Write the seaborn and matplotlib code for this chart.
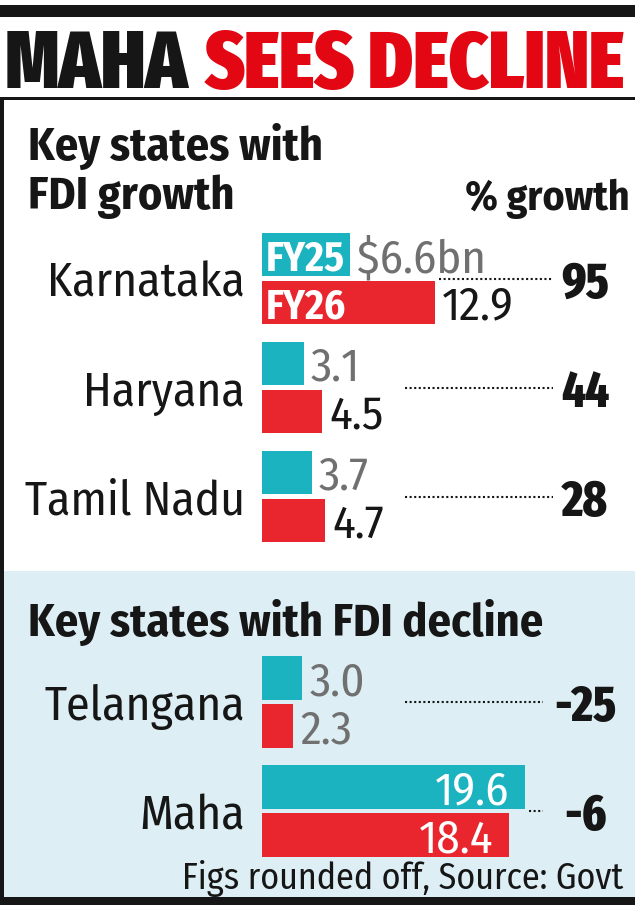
import matplotlib
matplotlib.use('Agg')
import matplotlib.pyplot as plt
import matplotlib.transforms as mtransforms
from matplotlib.patches import Rectangle
import pandas as pd
import seaborn as sns

# ---------------- данные ----------------
growth_states = ['Karnataka', 'Haryana', 'Tamil Nadu']
growth_fy25 = [6.6, 3.1, 3.7]
growth_fy26 = [12.9, 4.5, 4.7]
growth_pct = ['95', '44', '28']

decline_states = ['Telangana', 'Maha']
decline_fy25 = [3.0, 19.6]
decline_fy26 = [2.3, 18.4]
decline_pct = ['-25', '-6']

years = ['FY25', 'FY26']

TEAL = '#1bb3bf'
RED = '#e9262e'
TITLE_RED = '#e30613'
GREY = '#707070'
INK = '#161616'
PALE = '#ddeff4'

# шрифты: узкие, если есть, иначе обычные (размер подгоняется по ширине)
REG = ['Fira Sans Condensed', 'Roboto Condensed', 'Liberation Sans', 'DejaVu Sans']
HEAVY = ['Fira Sans Extra Condensed', 'Roboto Condensed', 'Liberation Sans', 'DejaVu Sans']

sns.set_theme(style='white')
plt.rcParams['font.family'] = REG

W, H = 635, 907
BAR_X0 = 262          # где начинаются полосы, px
PX_PER_BN = 13.4      # масштаб, px на $1bn

fig = plt.figure(figsize=(W / 100, H / 100), dpi=100)
bg = fig.add_axes([0, 0, 1, 1])
bg.set_xlim(0, W)
bg.set_ylim(H, 0)
bg.axis('off')
renderer = fig.canvas.get_renderer()


def px_box(x0, y0, x1, y1):
    return [x0 / W, 1 - y1 / H, (x1 - x0) / W, (y1 - y0) / H]


def size_for(s, width_px, **kw):
    # размер шрифта, при котором строка s занимает width_px пикселей
    t = bg.text(0, 0, s, fontsize=40, **kw)
    w = t.get_window_extent(renderer).width
    t.remove()
    return 40 * width_px / w


title_fs = size_for('SEES DECLINE', 420, family=HEAVY, weight=900)
head_fs = size_for('Key states with FDI decline', 515, family=REG, weight='bold')
pct_head_fs = size_for('% growth', 165, family=REG, weight='bold')
state_fs = size_for('Karnataka', 198, family=REG)
value_fs = size_for('12.9', 72, family=REG)
tag_fs = size_for('FY25', 79, family=REG, weight='bold')
num_fs = size_for('95', 48, family=HEAVY, weight=800)
foot_fs = size_for('Figs rounded off, Source: Govt', 442, family=REG)

# ---------------- рамка и фон ----------------
bg.add_patch(Rectangle((0, 571), W, 326, facecolor=PALE, lw=0))
bg.add_patch(Rectangle((0, 5), W, 12, facecolor=INK, lw=0))
bg.add_patch(Rectangle((0, 97), W, 3, facecolor=INK, lw=0))
bg.add_patch(Rectangle((0, 97), 4, 805, facecolor=INK, lw=0))
bg.add_patch(Rectangle((0, 897), W, 8, facecolor=INK, lw=0))

# ---------------- заголовки ----------------
bg.text(5, 88, 'MAHA', fontsize=title_fs, family=HEAVY, weight=900, color=INK, va='baseline')
bg.text(625, 88, 'SEES DECLINE', fontsize=title_fs, family=HEAVY, weight=900,
        color=TITLE_RED, ha='right', va='baseline')
bg.text(28, 160, 'Key states with', fontsize=head_fs, weight='bold', color=INK, va='baseline')
bg.text(28, 209, 'FDI growth', fontsize=head_fs, weight='bold', color=INK, va='baseline')
bg.text(630, 210, '% growth', fontsize=pct_head_fs, weight='bold', color=INK,
        ha='right', va='baseline')
bg.text(28, 636, 'Key states with FDI decline', fontsize=head_fs, weight='bold', color=INK,
        va='baseline')
bg.text(623, 889, 'Figs rounded off, Source: Govt', fontsize=foot_fs, color=INK,
        ha='right', va='baseline')


# ---------------- секции с полосами ----------------
def draw_section(y0, y1, states, fy25, fy26, pct, dots_end, fy26_color, tags):
    n = len(states)
    ax = fig.add_axes(px_box(BAR_X0, y0, W, y1))
    df = pd.DataFrame({'state': states * 2,
                       'year': ['FY25'] * n + ['FY26'] * n,
                       'bn': fy25 + fy26})
    sns.barplot(data=df, x='bn', y='state', hue='year', hue_order=years,
                palette=[TEAL, RED], orient='h', width=0.88, gap=0.1,
                saturation=1, linewidth=0, errorbar=None, legend=False, ax=ax)
    ax.set_xlim(0, (W - BAR_X0) / PX_PER_BN)
    ax.set_ylim(n - 0.5, -0.5)
    ax.set_facecolor('none')
    ax.set_xticks([])
    ax.set_xlabel('')
    ax.set_ylabel('')
    ax.tick_params(axis='y', length=0, pad=12.2, labelsize=state_fs, labelcolor=INK)
    sns.despine(ax=ax, left=True, bottom=True)

    for j, bars in enumerate(ax.containers):
        for i, bar in enumerate(bars):
            val = bar.get_width()
            yc = bar.get_y() + bar.get_height() / 2
            txt = f'{val:.1f}'
            if tags and i == 0 and j == 0:
                txt = f'${val:.1f}bn'
            if val > 15:
                ax.annotate(txt, (val, yc), xytext=(-15, 0), textcoords='offset pixels',
                            ha='right', va='center_baseline', fontsize=value_fs, color='white')
            else:
                color = GREY if j == 0 else fy26_color
                ax.annotate(txt, (val, yc), xytext=(7, 0), textcoords='offset pixels',
                            ha='left', va='center_baseline', fontsize=value_fs, color=color)
            if tags and i == 0:
                ax.annotate(years[j], (0, yc), xytext=(4, 0), textcoords='offset pixels',
                            ha='left', va='center_baseline', fontsize=tag_fs,
                            weight='bold', color='white')

    trans = mtransforms.blended_transform_factory(bg.transData, ax.transData)
    for i in range(n):
        start = max(10.7, max(fy25[i], fy26[i]) + 0.3)
        ax.plot([start, dots_end], [i, i], color=INK, lw=1.5, ls=(0, (1, 1.2)))
        ax.text(585, i, pct[i], transform=trans, ha='center', va='center_baseline',
                fontsize=num_fs, family=HEAVY, weight=800, color=INK)
    return ax


draw_section(224, 551, growth_states, growth_fy25, growth_fy26, growth_pct,
             21.7, INK, True)
draw_section(647.5, 865.5, decline_states, decline_fy25, decline_fy26, decline_pct,
             21.0, GREY, False)

plt.savefig('out.png', dpi=100)
